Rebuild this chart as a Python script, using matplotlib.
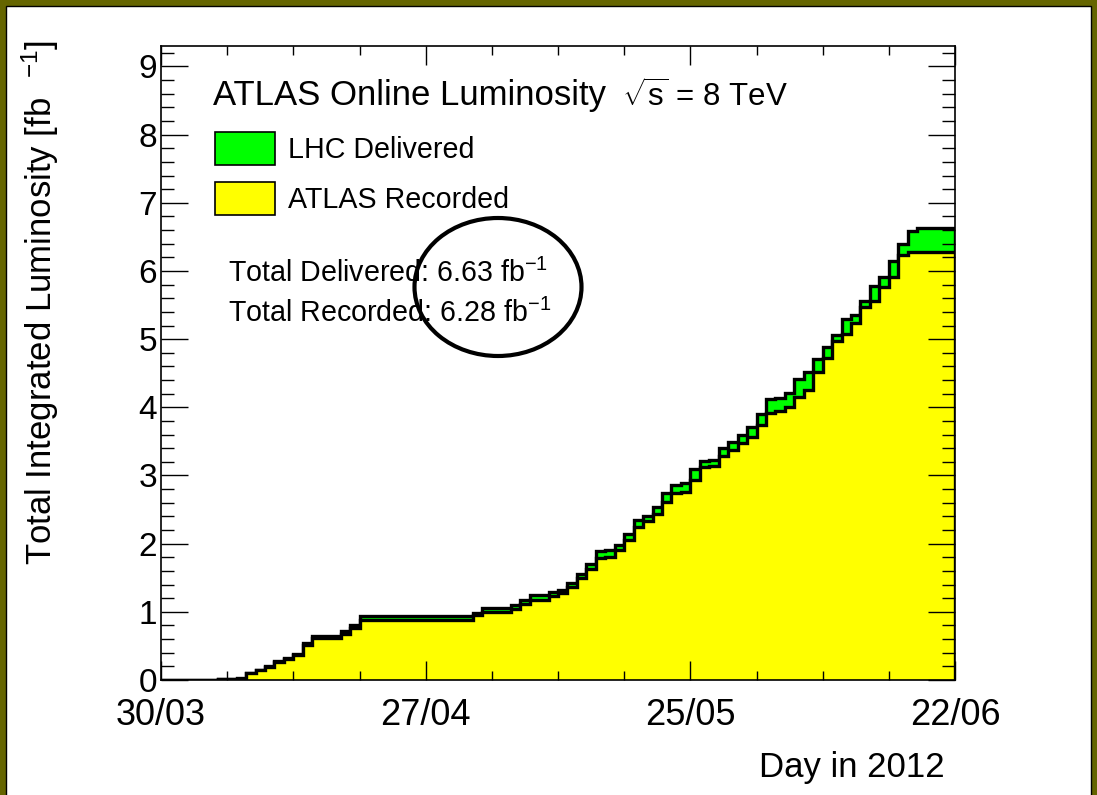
import numpy as np
import matplotlib
matplotlib.use("Agg")
import matplotlib.pyplot as plt
from matplotlib.patches import Rectangle, Ellipse, Patch

plt.rcParams['font.family'] = ['Liberation Sans', 'DejaVu Sans']
plt.rcParams['mathtext.fontset'] = 'custom'
plt.rcParams['mathtext.rm'] = 'Liberation Sans'
plt.rcParams['mathtext.it'] = 'Liberation Sans:italic'

# Day bins counted from 30/03/2012
days = np.arange(0, 85)

# Cumulative delivered luminosity per day [fb^-1]
delivered = [
    0, 0, 0, 0, 0, 0, 0.02, 0.02, 0.03, 0.107,
    0.147, 0.205, 0.28, 0.33, 0.38, 0.54, 0.65, 0.65, 0.65, 0.72,
    0.81, 0.94, 0.94, 0.94, 0.94, 0.94, 0.94, 0.94, 0.94, 0.94,
    0.94, 0.94, 0.94, 0.99, 1.05, 1.05, 1.05, 1.10, 1.17, 1.25,
    1.25, 1.29, 1.32, 1.42, 1.55, 1.70, 1.89, 1.90, 1.98, 2.14,
    2.34, 2.41, 2.54, 2.74, 2.86, 2.89, 3.09, 3.21, 3.23, 3.41,
    3.49, 3.59, 3.71, 3.90, 4.12, 4.14, 4.21, 4.41, 4.52, 4.71,
    4.88, 5.06, 5.29, 5.35, 5.56, 5.78, 5.91, 6.15, 6.40, 6.59,
    6.63, 6.63, 6.63, 6.63,
]

# Cumulative recorded luminosity per day [fb^-1]
recorded = [
    0, 0, 0, 0, 0, 0, 0.01, 0.01, 0.02, 0.10,
    0.14, 0.195, 0.265, 0.315, 0.36, 0.52, 0.62, 0.62, 0.62, 0.68,
    0.77, 0.88, 0.88, 0.88, 0.88, 0.88, 0.88, 0.88, 0.88, 0.88,
    0.88, 0.88, 0.88, 0.95, 1.00, 1.00, 1.00, 1.04, 1.11, 1.18,
    1.18, 1.23, 1.27, 1.37, 1.49, 1.63, 1.79, 1.80, 1.91, 2.05,
    2.24, 2.33, 2.44, 2.61, 2.74, 2.76, 2.93, 3.12, 3.14, 3.29,
    3.37, 3.47, 3.57, 3.74, 3.91, 3.95, 4.01, 4.15, 4.26, 4.52,
    4.72, 4.98, 5.07, 5.23, 5.47, 5.56, 5.77, 5.91, 6.23, 6.28,
    6.28, 6.28, 6.28, 6.28,
]

tick_days = [0, 28, 56, 84]
tick_labels = ['30/03', '27/04', '25/05', '22/06']

W, H = 1097, 795
fig = plt.figure(figsize=(W / 100, H / 100), dpi=100)

# Olive frame around the picture
fig.patches.append(Rectangle((0, 0), 1, 1, transform=fig.transFigure,
                             facecolor='#656500', edgecolor='none', zorder=-10))
fig.patches.append(Rectangle((6 / W, -0.05), 1 - 12 / W, 1.05 - 6 / H,
                             transform=fig.transFigure, facecolor='white',
                             edgecolor='black', linewidth=1, zorder=-9))

ax = fig.add_axes([161 / W, 1 - 680 / H, (955 - 161) / W, (680 - 46) / H])
ax.set_facecolor('white')

# Histograms: delivered (green) behind recorded (yellow)
ax.stairs(delivered, days, fill=True, facecolor='#00ff00', edgecolor='none', zorder=1.0)
ax.stairs(delivered, days, baseline=0, color='black', linewidth=2.4, zorder=1.1, joinstyle='miter')
ax.stairs(recorded, days, fill=True, facecolor='#ffff00', edgecolor='none', zorder=1.2)
ax.stairs(recorded, days, baseline=0, color='black', linewidth=2.4, zorder=1.3, joinstyle='miter')

ax.set_xlim(0, 84)
ax.set_ylim(0, 9.3)
ax.set_axisbelow(False)

ax.set_xticks(tick_days)
ax.set_xticklabels(tick_labels)
ax.set_xticks(np.arange(0, 85, 7), minor=True)
ax.set_yticks(np.arange(0, 10, 1))
ax.set_yticks(np.arange(0, 9.3, 0.2), minor=True)

ax.tick_params(axis='x', which='major', direction='in', length=13.7, width=1,
               top=True, labelsize=26, pad=13)
ax.tick_params(axis='x', which='minor', direction='in', length=6.5, width=1, top=True)
ax.tick_params(axis='y', which='major', direction='in', length=19.4, width=1,
               right=True, labelsize=24, pad=3)
ax.tick_params(axis='y', which='minor', direction='in', length=9.4, width=1, right=True)
for s in ax.spines.values():
    s.set_linewidth(1.2)

# Axis titles (ROOT style, aligned to the axis ends)
fig.text(40 / W, 1 - 40 / H, r'Total Integrated Luminosity [fb  $^{-1}$]',
         rotation=90, ha='center', va='top', fontsize=25)
fig.text(945 / W, 1 - 768 / H, 'Day in 2012', ha='right', va='center', fontsize=25)

# Labels inside the plot
fig.text(213 / W, 1 - 95 / H, 'ATLAS Online Luminosity', ha='left', va='center', fontsize=25)
fig.text(622 / W, 1 - 97 / H, r'$\sqrt{\mathrm{s}}$ = 8 TeV', ha='left', va='center', fontsize=22.5)
fig.text(228 / W, 1 - 273 / H, r'Total Delivered: 6.63 fb$^{-1}$', ha='left', va='center', fontsize=20.6)
fig.text(228 / W, 1 - 313 / H, r'Total Recorded: 6.28 fb$^{-1}$', ha='left', va='center', fontsize=20.6)

handles = [Patch(facecolor='#00ff00', edgecolor='black', linewidth=1.2),
           Patch(facecolor='#ffff00', edgecolor='black', linewidth=1.2)]
fig.legend(handles, ['LHC Delivered', 'ATLAS Recorded'], loc='upper left',
           bbox_to_anchor=(215 / W, 1 - 132 / H), frameon=False, fontsize=20.6,
           handlelength=2.1, handleheight=1.38, handletextpad=0.45,
           labelspacing=0.62, borderpad=0, borderaxespad=0)

# Hand-drawn circle around the totals
fig.patches.append(Ellipse((498 / W, 1 - 287 / H), 167 / W, 138 / H,
                           transform=fig.transFigure, facecolor='none',
                           edgecolor='black', linewidth=3, zorder=5))

fig.savefig('out.png', dpi=100)
